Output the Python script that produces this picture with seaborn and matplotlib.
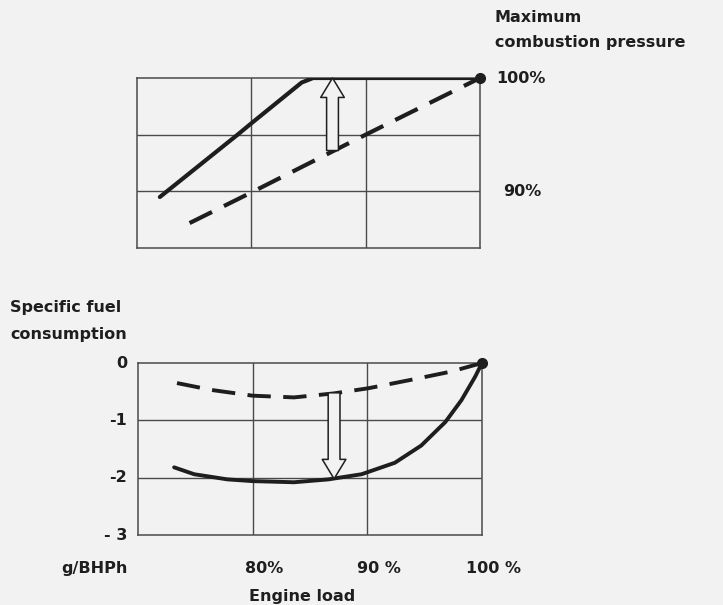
import numpy as np
import pandas as pd
import seaborn as sns
import matplotlib
matplotlib.use("Agg")
import matplotlib.pyplot as plt

# --- data ---
# upper panel: maximum combustion pressure (%) vs engine load (%)
pmax_load_solid = [72.0, 78.8, 80.0, 84.4, 85.4, 100.0]
pmax_solid = [89.5, 95.0, 96.0, 99.6, 100.0, 100.0]
pmax_load_dashed = [74.6, 80.0, 90.0, 100.0]
pmax_dashed = [87.2, 89.9, 95.0, 100.0]
pmax_arrow_x = 87.1
pmax_arrow = [93.6, 100.0]

# lower panel: specific fuel consumption difference (g/BHPh)
sfoc_load_solid = [73.15, 74.9, 77.8, 80.0, 83.6, 86.6, 89.5, 92.4, 94.7, 96.8, 98.2, 99.4, 100.0]
sfoc_solid = [-1.82, -1.94, -2.03, -2.06, -2.08, -2.03, -1.94, -1.74, -1.44, -1.03, -0.65, -0.24, 0.0]
sfoc_load_dashed = [73.4, 76.4, 80.0, 83.6, 87.1, 90.1, 93.9, 97.3, 100.0]
sfoc_dashed = [-0.35, -0.47, -0.57, -0.6, -0.53, -0.44, -0.29, -0.15, 0.0]
sfoc_arrow_x = 87.1
sfoc_arrow = [-0.52, -2.02]

load_ticks = [80, 90, 100]
load_labels = ["80%", "90 %", "100 %"]
sfoc_ticks = [0, -1, -2, -3]
sfoc_labels = ["0", "-1", "-2", "- 3"]
pmax_ticks = [90, 95]

W, H = 723, 605
BG = "#f2f2f2"
INK = "#1e1e1e"
GRID = "#4a4a4a"
FS = 11.5

sns.set_theme(style="white")
plt.rcParams["font.family"] = ["DejaVu Sans"]
plt.rcParams["font.weight"] = "bold"

fig = plt.figure(figsize=(W / 100, H / 100), dpi=100, facecolor=BG)


def px_axes(x0, y0, x1, y1):
    # pixel box (left, top, right, bottom) -> figure axes
    return fig.add_axes([x0 / W, 1 - y1 / H, (x1 - x0) / W, (y1 - y0) / H])


def px_text(x, y, s, **kw):
    fig.text(x / W, 1 - y / H, s, color=INK, fontsize=FS, fontweight="bold", **kw)


def style_box(ax):
    ax.set_facecolor(BG)
    for sp in ax.spines.values():
        sp.set_color(GRID)
        sp.set_linewidth(1.1)
    ax.set_xticks([])
    ax.set_yticks([])
    ax.set_xlabel("")
    ax.set_ylabel("")


def hollow_arrow(ax, x, y_from, y_to):
    ax.annotate("", xy=(x, y_to), xytext=(x, y_from),
                arrowprops=dict(arrowstyle="simple,head_width=1.7,head_length=1.4,tail_width=0.85",
                                mutation_scale=10, facecolor=BG, edgecolor=INK, lw=1.1,
                                shrinkA=0, shrinkB=0),
                zorder=4)


# --- upper panel ---
ax1 = px_axes(137, 78, 480, 248)
sns.lineplot(x=pmax_load_solid, y=pmax_solid, ax=ax1, color=INK, lw=3.0, sort=False,
             solid_capstyle="round", solid_joinstyle="round", zorder=3)
sns.lineplot(x=pmax_load_dashed, y=pmax_dashed, ax=ax1, color=INK, lw=3.0,
             linestyle=(0, (6, 3.2)), zorder=3)
ax1.plot([pmax_load_solid[-1]], [pmax_solid[-1]], "o", color=INK, ms=7, clip_on=False, zorder=5)
hollow_arrow(ax1, pmax_arrow_x, pmax_arrow[0], pmax_arrow[1])
ax1.set_xlim(70, 100)
ax1.set_ylim(85, 100)
style_box(ax1)
for x in load_ticks[:-1]:
    ax1.axvline(x, color=GRID, lw=1.0, zorder=1)
for y in pmax_ticks:
    ax1.axhline(y, color=GRID, lw=1.0, zorder=1)

# --- lower panel ---
ax2 = px_axes(138, 363, 482, 535)
sns.lineplot(x=sfoc_load_solid, y=sfoc_solid, ax=ax2, color=INK, lw=2.8,
             solid_joinstyle="round", solid_capstyle="round", zorder=3)
sns.lineplot(x=sfoc_load_dashed, y=sfoc_dashed, ax=ax2, color=INK, lw=2.8,
             linestyle=(0, (6, 3.2)), zorder=3)
ax2.plot([sfoc_load_solid[-1]], [sfoc_solid[-1]], "o", color=INK, ms=7, clip_on=False, zorder=5)
hollow_arrow(ax2, sfoc_arrow_x, sfoc_arrow[0], sfoc_arrow[1])
ax2.set_xlim(70, 100)
ax2.set_ylim(-3, 0)
style_box(ax2)
for x in load_ticks[:-1]:
    ax2.axvline(x, color=GRID, lw=1.0, zorder=1)
for y in sfoc_ticks[1:-1]:
    ax2.axhline(y, color=GRID, lw=1.0, zorder=1)

# y tick labels of the lower panel
for v, lab in zip(sfoc_ticks, sfoc_labels):
    ax2.annotate(lab, xy=(0, v), xycoords=("axes fraction", "data"), xytext=(-8, 0),
                 textcoords="offset points", ha="right", va="center",
                 fontsize=FS, fontweight="bold", color=INK)
# x tick labels, set slightly right of the grid lines like the original
for v, lab in zip(load_ticks, load_labels):
    ax2.annotate(lab, xy=(v, 0), xycoords=("data", "axes fraction"), xytext=(8, -24),
                 textcoords="offset points", ha="center", va="center",
                 fontsize=FS, fontweight="bold", color=INK)

# right-hand labels of the upper panel
for v, lab in zip([100, 90], ["100%", "90%"]):
    ax1.annotate(lab, xy=(1, v), xycoords=("axes fraction", "data"), xytext=(12 if v == 100 else 17, 0),
                 textcoords="offset points", ha="left", va="center",
                 fontsize=FS, fontweight="bold", color=INK)

# --- free text ---
px_text(495, 18, "Maximum", va="center")
px_text(495, 42, "combustion pressure", va="center")
px_text(10, 308, "Specific fuel", va="center")
px_text(10, 334, "consumption", va="center")
px_text(128, 568, "g/BHPh", va="center", ha="right")
px_text(302, 597, "Engine load", va="center", ha="center")

fig.savefig("out.png", dpi=100, facecolor=BG)
